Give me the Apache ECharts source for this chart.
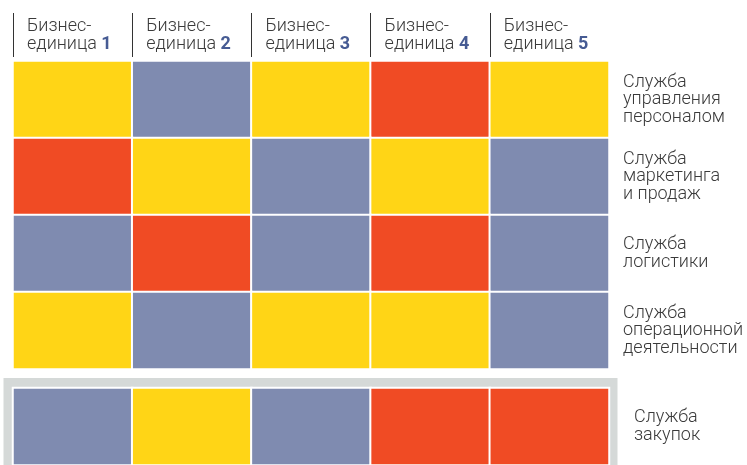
<!DOCTYPE html>
<html>
<head>
<meta charset="utf-8">
<style>
  html, body { margin: 0; padding: 0; background: #fff; }
  #chart { width: 747px; height: 465px; }
</style>
<script src="https://cdn.jsdelivr.net/npm/echarts@6/dist/echarts.min.js"></script>
</head>
<body>
<div id="chart"></div>
<script>
// Business units (column headers)
const unitPrefix = 'Бизнес-\nединица ';
const unitNumbers = ['1', '2', '3', '4', '5'];

// Shared services (row labels)
const services = [
  'Служба\nуправления\nперсоналом',
  'Служба\nмаркетинга\nи продаж',
  'Служба\nлогистики',
  'Служба\nоперационной\nдеятельности'
];
const procurementService = ['Служба\nзакупок'];

// Cell levels per service across units: 0 = grey-blue, 1 = yellow, 2 = red
const personnel  = [1, 0, 1, 2, 1];
const marketing  = [2, 1, 0, 1, 0];
const logistics  = [0, 2, 0, 2, 0];
const operations = [1, 0, 1, 1, 0];
const purchasing = [0, 1, 0, 2, 2];

const levelColors = ['#7F8BB0', '#FFD516', '#F04B24'];

const topRows = [personnel, marketing, logistics, operations];
const topData = [];
topRows.forEach((row, r) => row.forEach((v, c) => topData.push([c, r, v])));
const bottomData = purchasing.map((v, c) => [c, 0, v]);

const textColor = '#3a3a3a';
const font = 'Roboto';
const fontSize = 18;
const lineHeight = 17.5;

const chart = echarts.init(document.getElementById('chart'), null, { renderer: 'canvas' });

chart.setOption({
  animation: false,
  backgroundColor: '#fff',
  textStyle: { fontFamily: font },
  graphic: [{
    type: 'rect',
    z: -10,
    shape: { x: 3.5, y: 378, width: 614, height: 90 },
    style: { fill: '#D5D9D8' }
  }],
  grid: [
    { left: 13, top: 61, width: 596, height: 308 },
    { left: 13, top: 388, width: 596, height: 77 }
  ],
  xAxis: [
    {
      type: 'category', gridIndex: 0, data: unitNumbers,
      show: false
    },
    {
      type: 'category', gridIndex: 1, data: unitNumbers,
      show: false
    },
    {
      // header row: dividers at column boundaries, labels left-aligned
      type: 'category', gridIndex: 0, position: 'top', offset: 4,
      data: unitNumbers.concat(['']),
      boundaryGap: false,
      axisLine: { show: false },
      axisTick: {
        show: true, length: 44, inside: false,
        interval: (i) => i < unitNumbers.length,
        lineStyle: { color: '#333', width: 1 }
      },
      axisLabel: {
        show: true,
        interval: (i) => i < unitNumbers.length,
        align: 'left',
        margin: 4,
        padding: [0, 0, 0, 14],
        color: textColor,
        fontFamily: font,
        fontWeight: 300,
        fontSize: fontSize,
        lineHeight: lineHeight,
        formatter: (v) => unitPrefix + '{n|' + v + '}',
        rich: {
          n: { fontWeight: 'bold', color: '#465B93', fontSize: fontSize, lineHeight: lineHeight, fontFamily: font }
        }
      },
      splitLine: { show: false }
    }
  ],
  yAxis: [
    {
      type: 'category', gridIndex: 0, data: services, inverse: true,
      position: 'right',
      axisLine: { show: false }, axisTick: { show: false }, splitLine: { show: false },
      axisLabel: {
        margin: 14, align: 'left', color: textColor, fontFamily: font,
        fontWeight: 300, fontSize: fontSize, lineHeight: lineHeight
      }
    },
    {
      type: 'category', gridIndex: 1, data: procurementService, inverse: true,
      position: 'right',
      axisLine: { show: false }, axisTick: { show: false }, splitLine: { show: false },
      axisLabel: {
        margin: 25, align: 'left', color: textColor, fontFamily: font,
        fontWeight: 300, fontSize: fontSize, lineHeight: lineHeight
      }
    }
  ],
  visualMap: {
    type: 'piecewise', show: false, dimension: 2, seriesIndex: [0, 1],
    pieces: levelColors.map((color, i) => ({ value: i, color }))
  },
  series: [
    {
      type: 'heatmap', xAxisIndex: 0, yAxisIndex: 0, data: topData,
      itemStyle: { borderColor: '#fff', borderWidth: 2 },
      emphasis: { disabled: true }
    },
    {
      type: 'heatmap', xAxisIndex: 1, yAxisIndex: 1, data: bottomData,
      itemStyle: { borderColor: '#fff', borderWidth: 2 },
      emphasis: { disabled: true }
    }
  ]
});
</script>
</body>
</html>
